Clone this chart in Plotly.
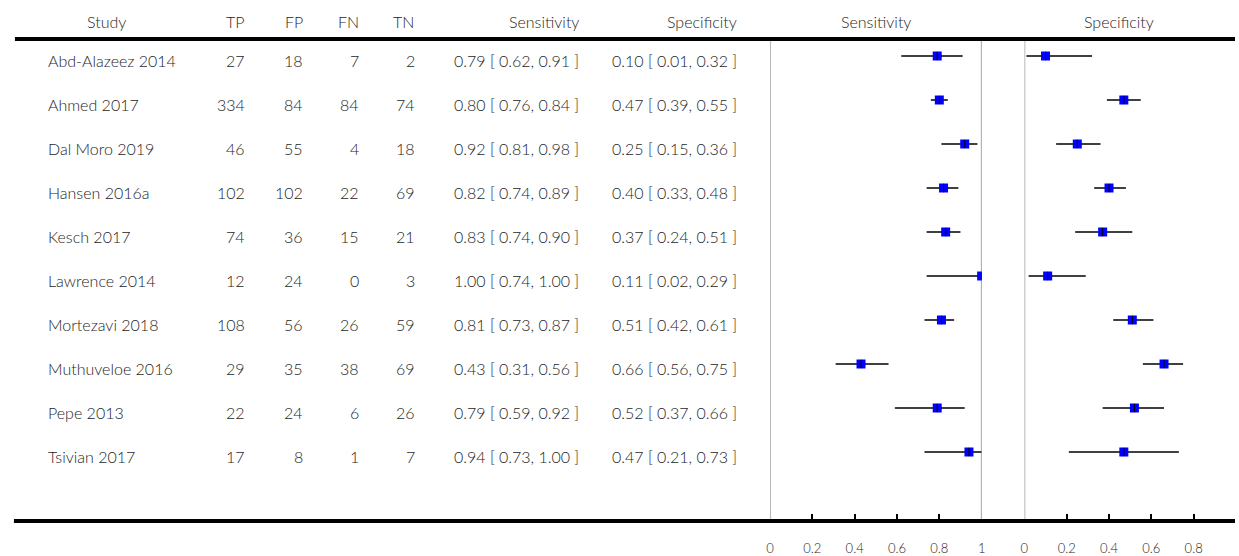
import plotly.graph_objects as go

studies = ["Abd-Alazeez 2014", "Ahmed 2017", "Dal Moro 2019", "Hansen 2016a", "Kesch 2017",
           "Lawrence 2014", "Mortezavi 2018", "Muthuveloe 2016", "Pepe 2013", "Tsivian 2017"]
tp = [27, 334, 46, 102, 74, 12, 108, 29, 22, 17]
fp = [18, 84, 55, 102, 36, 24, 56, 35, 24, 8]
fn = [7, 84, 4, 22, 15, 0, 26, 38, 6, 1]
tn = [2, 74, 18, 69, 21, 3, 59, 69, 26, 7]
sens = [0.79, 0.80, 0.92, 0.82, 0.83, 1.00, 0.81, 0.43, 0.79, 0.94]
sens_lo = [0.62, 0.76, 0.81, 0.74, 0.74, 0.74, 0.73, 0.31, 0.59, 0.73]
sens_hi = [0.91, 0.84, 0.98, 0.89, 0.90, 1.00, 0.87, 0.56, 0.92, 1.00]
spec = [0.10, 0.47, 0.25, 0.40, 0.37, 0.11, 0.51, 0.66, 0.52, 0.47]
spec_lo = [0.01, 0.39, 0.15, 0.33, 0.24, 0.02, 0.42, 0.56, 0.37, 0.21]
spec_hi = [0.32, 0.55, 0.36, 0.48, 0.51, 0.29, 0.61, 0.75, 0.66, 0.73]
sens_ticks = [0, 0.2, 0.4, 0.6, 0.8, 1]
sens_ticktext = ["0", "0.2", "0.4", "0.6", "0.8", "1"]
spec_ticks = [0, 0.2, 0.4, 0.6, 0.8]
spec_ticktext = ["0", "0.2", "0.4", "0.6", "0.8"]

W, H = 1239, 556
ROW0, STEP = 56, 44
AX_Y = 521

def ydat(py):
    return (py - ROW0) / STEP

def px(x):
    return x / W

FONT = "Lato, 'Open Sans', sans-serif"
TXT = "#1e1e1e"
rows = list(range(len(studies)))

fig = go.Figure()

def ci_xy(lo, hi):
    xs, ys = [], []
    for i, (a, b) in enumerate(zip(lo, hi)):
        xs += [a, b, None]
        ys += [i, i, None]
    return xs, ys

for axis, est, lo, hi in [("x", sens, sens_lo, sens_hi), ("x2", spec, spec_lo, spec_hi)]:
    xs, ys = ci_xy(lo, hi)
    fig.add_trace(go.Scatter(x=xs, y=ys, mode="lines", xaxis=axis, yaxis="y",
                             line=dict(color="black", width=1.5), hoverinfo="skip", showlegend=False))
    fig.add_trace(go.Scatter(x=est, y=rows, mode="markers", xaxis=axis, yaxis="y",
                             marker=dict(symbol="square", size=9, color="#0000ff", line=dict(width=0)),
                             showlegend=False))
    fig.add_trace(go.Scatter(x=est, y=rows, mode="markers", xaxis=axis, yaxis="y",
                             marker=dict(symbol="line-ns", size=6, line=dict(color="black", width=1)),
                             hoverinfo="skip", showlegend=False))

sx0, sx1 = 771, 984
spx0 = 1027
scale = (sx1 - sx0)
tickfont = dict(size=13, color=TXT, family=FONT, weight=300)
fig.update_layout(
    width=W, height=H, margin=dict(l=0, r=0, t=0, b=0),
    paper_bgcolor="white", plot_bgcolor="white",
    font=dict(family=FONT, color=TXT, size=16),
    xaxis=dict(domain=[px(sx0), px(sx1)], range=[0, 1], anchor="y",
               showgrid=False, zeroline=False, showline=False,
               tickmode="array", tickvals=sens_ticks, ticktext=sens_ticktext,
               ticks="inside", ticklen=7, tickwidth=2, tickcolor="black",
               tickfont=tickfont, ticklabelstandoff=18),
    xaxis2=dict(domain=[px(spx0), 1], range=[0, (W - spx0) / scale], anchor="y",
                showgrid=False, zeroline=False, showline=False,
                tickmode="array", tickvals=spec_ticks, ticktext=spec_ticktext,
                ticks="inside", ticklen=7, tickwidth=2, tickcolor="black",
                tickfont=tickfont, ticklabelstandoff=18),
    yaxis=dict(domain=[(H - AX_Y) / H, 1], range=[ydat(AX_Y), ydat(0)],
               showgrid=False, zeroline=False, showline=False, showticklabels=False, ticks=""),
)

shapes = []
shapes.append(dict(type="line", xref="paper", yref="y", x0=px(11), x1=1, y0=ydat(39), y1=ydat(39),
                   line=dict(color="black", width=4)))
shapes.append(dict(type="line", xref="paper", yref="paper", x0=px(10), x1=1,
                   y0=(H - AX_Y) / H, y1=(H - AX_Y) / H, line=dict(color="black", width=4)))
shapes.append(dict(type="line", xref="x", yref="y", x0=0, x1=0, y0=ydat(41), y1=ydat(AX_Y),
                   line=dict(color="#b8b8b8", width=2), layer="below"))
shapes.append(dict(type="line", xref="x", yref="y", x0=1, x1=1, y0=ydat(41), y1=ydat(AX_Y),
                   line=dict(color="#8a8a8a", width=1.5), layer="below"))
shapes.append(dict(type="line", xref="x2", yref="y", x0=0, x1=0, y0=ydat(41), y1=ydat(AX_Y),
                   line=dict(color="#b8b8b8", width=2), layer="below"))
fig.update_layout(shapes=shapes)

ann = []
HY = ydat(21)

def add(text, x, y, anchor, yshift=0, size=16):
    ann.append(dict(text=text, x=px(x), y=y, xref="paper", yref="y", xanchor=anchor, yanchor="middle",
                    showarrow=False, font=dict(size=size, color=TXT, family=FONT, weight=300),
                    yshift=yshift))

add("Study", 103, HY, "center")
add("TP", 245, HY, "right")
add("FP", 303, HY, "right")
add("FN", 359, HY, "right")
add("TN", 415, HY, "right")
add("Sensitivity", 581, HY, "right")
add("Specificity", 740, HY, "right")
add("Sensitivity", 878, HY, "center")
add("Specificity", 1122, HY, "center")

for i in rows:
    ys = -4
    add(studies[i], 42, i, "left", ys)
    add(str(tp[i]), 245, i, "right", ys)
    add(str(fp[i]), 303, i, "right", ys)
    add(str(fn[i]), 359, i, "right", ys)
    add(str(tn[i]), 416, i, "right", ys)
    add(f"{sens[i]:.2f} [ {sens_lo[i]:.2f}, {sens_hi[i]:.2f} ]", 581, i, "right", ys)
    add(f"{spec[i]:.2f} [ {spec_lo[i]:.2f}, {spec_hi[i]:.2f} ]", 740, i, "right", ys)

fig.update_layout(annotations=ann)
fig.write_html("out.html", config={"displayModeBar": False},
               post_script="document.body.style.margin='0';document.body.style.overflow='hidden';")
